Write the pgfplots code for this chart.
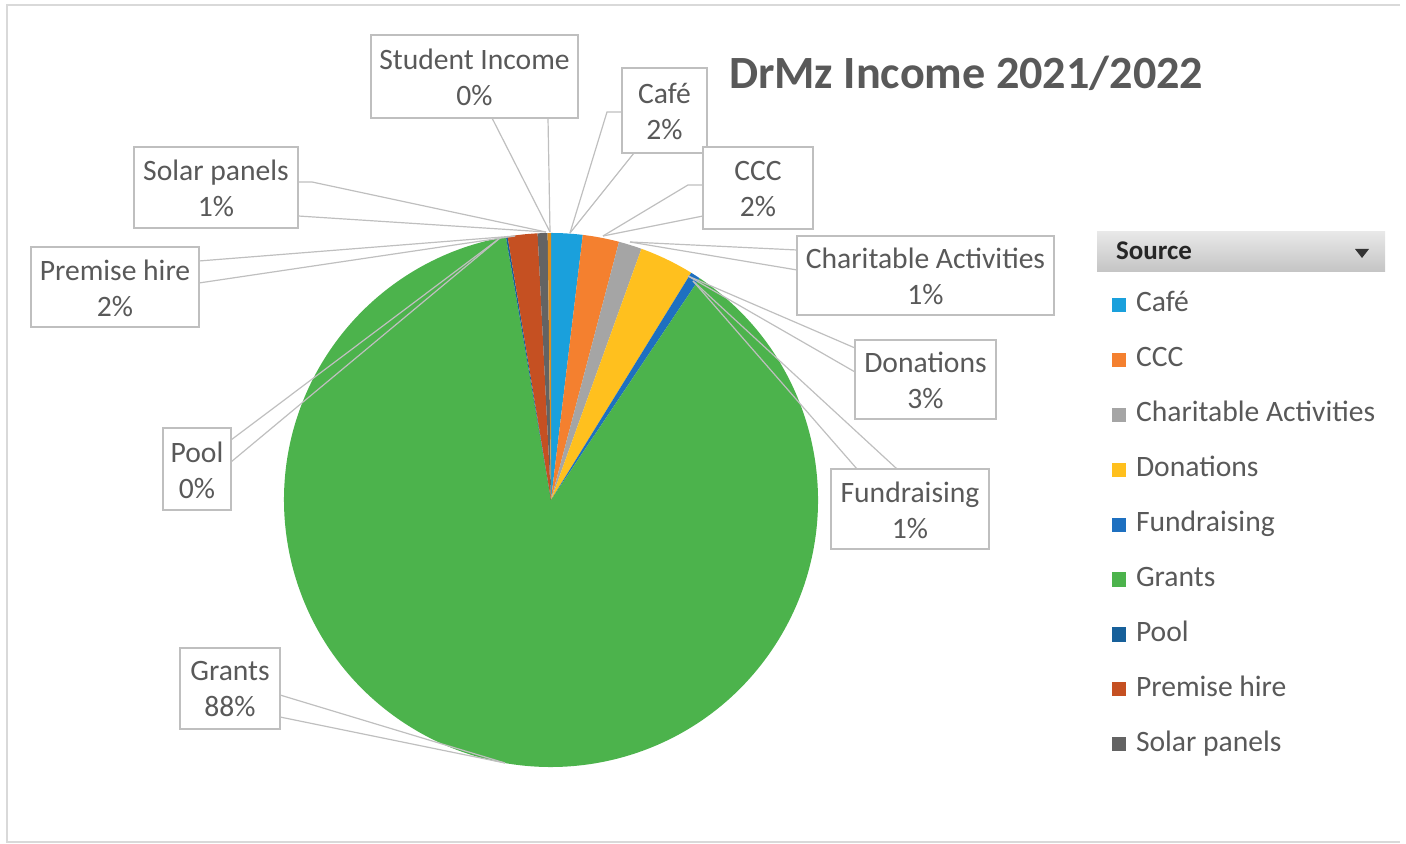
\documentclass[border=0pt]{standalone}
\usepackage{fontspec}
\setmainfont{Carlito}
\usepackage{pgfplots}
\usepackage{pgfplotstable}
\pgfplotsset{compat=1.18}

% slice colours, in the order of the table
\definecolor{s0}{HTML}{1AA0DC}% Cafe
\definecolor{s1}{HTML}{F4802F}% CCC
\definecolor{s2}{HTML}{A5A5A5}% Charitable Activities
\definecolor{s3}{HTML}{FFC01E}% Donations
\definecolor{s4}{HTML}{1E70C0}% Fundraising
\definecolor{s5}{HTML}{4CB34C}% Grants
\definecolor{s6}{HTML}{17609A}% Pool
\definecolor{s7}{HTML}{C55022}% Premise hire
\definecolor{s8}{HTML}{636363}% Solar panels
\definecolor{s9}{HTML}{DE8C1F}% Student Income
\definecolor{txt}{HTML}{595959}
\definecolor{boxline}{HTML}{BFBFBF}
\definecolor{frame}{HTML}{D9D9D9}
\definecolor{hdrtop}{HTML}{E8E8E8}
\definecolor{hdrbot}{HTML}{C4C4C4}

% share of income, percent (clockwise from 12 o'clock)
\pgfplotstableread{
slice value
0 1.9
1 2.2
2 1.4
3 3.3
4 0.6
5 87.9
6 0.1
7 1.8
8 0.6
9 0.2
}\income

\newcommand\lbl[6]{%
  \draw[boxline, line width=0.8pt, fill=white] (axis cs:#1,-#3) rectangle (axis cs:#2,-#4);
  \node[text=txt, align=center, font=\fontsize{14.8}{18}\selectfont]
    at (axis cs:{(#1+#2)/2},{-(#3+#4)/2-1}) {#5\\#6};}

\begin{document}
\begin{tikzpicture}
\begin{axis}[
    x=0.5pt, y=0.5pt,
    xmin=0, xmax=1406, ymin=-844, ymax=0,
    hide axis, clip=false,
    legend image code/.code={\fill[#1] (0pt,-3.3pt) rectangle (6.6pt,3.3pt);},
    legend style={at={(axis cs:1112,-292)}, anchor=north west,
        draw=none, fill=none, inner sep=0pt, outer sep=0pt,
        row sep=14.45pt, column sep=5pt,
        font=\fontsize{14.8}{18}\selectfont, text=txt,
        nodes={inner sep=0pt, text height=10pt, text depth=3pt}},
    legend cell align=left,
]
\path (axis cs:0,0) rectangle (axis cs:1406,-844);
\draw[frame, line width=1pt] (axis cs:1400,-5) -- (axis cs:7,-5) -- (axis cs:7,-842) -- (axis cs:1400,-842);

% pie slices
\xdef\cum{90}
\pgfplotsinvokeforeach{0,...,9}{
  \pgfplotstablegetelem{#1}{value}\of\income
  \pgfmathsetmacro\aend{\cum-3.6*\pgfplotsretval}
  \edef\slice{\noexpand\fill[s#1] (axis cs:551,-500) -- ++(\cum:133.5pt)
     arc[start angle=\cum, end angle=\aend, radius=133.5pt] -- cycle;}
  \slice
  \xdef\cum{\aend}
}

% leader lines
\begin{scope}[boxline, line width=0.6pt]
\draw (axis cs:492,-118) -- (axis cs:550,-232);
\draw (axis cs:548,-118) -- (axis cs:550,-232);
\draw (axis cs:622,-112) -- (axis cs:607,-112) -- (axis cs:570,-233);
\draw (axis cs:634,-153) -- (axis cs:570,-233);
\draw (axis cs:703,-185) -- (axis cs:688,-185) -- (axis cs:603,-236);
\draw (axis cs:703,-216) -- (axis cs:603,-236);
\draw (axis cs:797,-250) -- (axis cs:630,-242);
\draw (axis cs:797,-270) -- (axis cs:630,-242);
\draw (axis cs:855,-348) -- (axis cs:688,-276);
\draw (axis cs:855,-372) -- (axis cs:688,-276);
\draw (axis cs:857,-469) -- (axis cs:693,-281);
\draw (axis cs:897,-469) -- (axis cs:693,-281);
\draw (axis cs:231,-440) -- (axis cs:500,-238);
\draw (axis cs:231,-462) -- (axis cs:500,-238);
\draw (axis cs:280,-695) -- (axis cs:505,-763);
\draw (axis cs:280,-717) -- (axis cs:505,-763);
\draw (axis cs:199,-261) -- (axis cs:515,-236);
\draw (axis cs:199,-283) -- (axis cs:515,-236);
\draw (axis cs:298,-182) -- (axis cs:312,-182) -- (axis cs:546,-232);
\draw (axis cs:298,-216) -- (axis cs:546,-232);
\end{scope}

% data labels
\lbl{371}{578}{35}{118}{Student Income}{0\%}
\lbl{622}{707}{68}{153}{Café}{2\%}
\lbl{703}{813}{147}{229}{CCC}{2\%}
\lbl{797}{1054}{236}{315}{Charitable Activities}{1\%}
\lbl{855}{996}{340}{419}{Donations}{3\%}
\lbl{831}{989}{469}{549}{Fundraising}{1\%}
\lbl{163}{231}{428}{510}{Pool}{0\%}
\lbl{180}{280}{648}{729}{Grants}{88\%}
\lbl{31}{199}{247}{327}{Premise hire}{2\%}
\lbl{134}{298}{147}{228}{Solar panels}{1\%}

% title
\node[anchor=base west, text=txt, font=\bfseries\fontsize{23.1}{28}\selectfont]
  at (axis cs:722,-89) {DrMz Income 2021/2022};

% legend header
\shade[top color=hdrtop, bottom color=hdrbot] (axis cs:1097,-232) rectangle (axis cs:1385,-272);
\node[anchor=base west, text=black!85, font=\bfseries\fontsize{13.5}{16}\selectfont]
  at (axis cs:1109,-260) {Source};
\fill[black!80] (axis cs:1355,-249) -- (axis cs:1369,-249) -- (axis cs:1362,-258) -- cycle;

\addlegendimage{s0}\addlegendentry{Café}
\addlegendimage{s1}\addlegendentry{CCC}
\addlegendimage{s2}\addlegendentry{Charitable Activities}
\addlegendimage{s3}\addlegendentry{Donations}
\addlegendimage{s4}\addlegendentry{Fundraising}
\addlegendimage{s5}\addlegendentry{Grants}
\addlegendimage{s6}\addlegendentry{Pool}
\addlegendimage{s7}\addlegendentry{Premise hire}
\addlegendimage{s8}\addlegendentry{Solar panels}
\end{axis}
\end{tikzpicture}
\end{document}
